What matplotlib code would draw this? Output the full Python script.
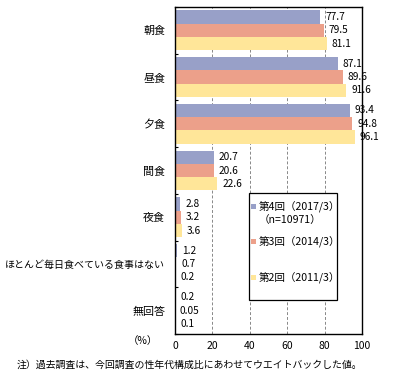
import matplotlib
matplotlib.use("Agg")
import matplotlib.pyplot as plt
from matplotlib.patches import Rectangle
import numpy as np

plt.rcParams['font.family'] = ['Noto Sans CJK JP', 'DejaVu Sans']

# === data ===
categories = ["朝食", "昼食", "夕食", "間食", "夜食",
              "ほとんど毎日食べている食事はない", "無回答"]
series_names = ["第4回（2017/3）", "第3回（2014/3）", "第2回（2011/3）"]
r4 = [77.7, 87.1, 93.4, 20.7, 2.8, 1.2, 0.2]
r3 = [79.5, 89.6, 94.8, 20.6, 3.2, 0.7, 0.05]
r2 = [81.1, 91.6, 96.1, 22.6, 3.6, 0.2, 0.1]
r4_lbl = ["77.7", "87.1", "93.4", "20.7", "2.8", "1.2", "0.2"]
r3_lbl = ["79.5", "89.6", "94.8", "20.6", "3.2", "0.7", "0.05"]
r2_lbl = ["81.1", "91.6", "96.1", "22.6", "3.6", "0.2", "0.1"]
colors = ["#98a0c8", "#eca08a", "#ffe699"]
xticks = [0, 20, 40, 60, 80, 100]

W, H = 397, 388


def px(x, y):
    return x / W, 1 - y / H


fig = plt.figure(figsize=(W / 100, H / 100), dpi=100)
ax = fig.add_axes([175 / W, 1 - 334 / H, (362 - 175) / W, (334 - 7) / H])

n = len(categories)
y = np.arange(n)
bh = 0.285
for i, (vals, lbls) in enumerate([(r4, r4_lbl), (r3, r3_lbl), (r2, r2_lbl)]):
    pos = y + (i - 1) * bh
    ax.barh(pos, vals, height=bh, color=colors[i], zorder=2)
    for p, v, t in zip(pos, vals, lbls):
        ax.annotate(t, (v, p), xytext=(3.5, 0), textcoords="offset points",
                    va="center", ha="left", fontsize=7.3, clip_on=False,
                    annotation_clip=False, zorder=4)

ax.set_ylim(n - 0.5, -0.5)
ax.set_xlim(0, 100)
ax.set_xticks(xticks)
ax.set_xticklabels([str(t) for t in xticks], fontsize=7.5)
ax.tick_params(axis="x", length=0, pad=5)
ax.set_yticks(np.arange(n + 1) - 0.5, minor=True)
ax.set_yticks(y)
ax.set_yticklabels(categories, fontsize=7.9)
for lab in ax.get_yticklabels():
    if len(lab.get_text()) > 4:
        lab.set_fontsize(7.2)  # long label has to fit at the left edge
ax.tick_params(axis="y", which="major", length=0, pad=7)
ax.tick_params(axis="y", which="minor", length=2.5, direction="in", width=0.8)
for s in ax.spines.values():
    s.set_linewidth(1.0)
ax.grid(axis="x", linestyle=(0, (3, 2)), color="#888888", linewidth=0.7, zorder=1)

# (%) label
fig.text(*px(143, 341), "（%）", fontsize=7.5, ha="center", va="center")

# legend box drawn by hand
x0, y0 = px(249, 300)
x1, y1 = px(337, 193)
fig.patches.append(Rectangle((x0, y0), x1 - x0, y1 - y0, transform=fig.transFigure,
                             facecolor="white", edgecolor="black", linewidth=0.9, zorder=5))
entries = [(series_names[0], 206.5), (series_names[1], 241.5), (series_names[2], 277.5)]
for (name, yy), c in zip(entries, colors):
    mx, my = px(251, yy + 2)
    fig.patches.append(Rectangle((mx, my), 4.5 / W, 4.5 / H, transform=fig.transFigure,
                                 facecolor=c, edgecolor="none", zorder=6))
    fig.text(*px(259, yy), name, fontsize=7.6, ha="left", va="center", zorder=7)
fig.text(*px(259, 220), "（n=10971）", fontsize=7.6, ha="left", va="center", zorder=7)

# note
fig.text(*px(17, 365), "注）過去調査は、今回調査の性年代構成比にあわせてウエイトバックした値。",
         fontsize=7.15, ha="left", va="center")

fig.savefig("out.png", dpi=100)
